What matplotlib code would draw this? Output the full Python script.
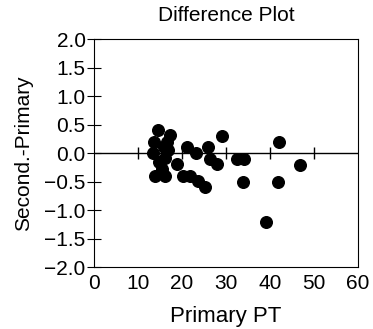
import matplotlib
matplotlib.use("Agg")
import matplotlib.pyplot as plt

plt.rcParams['font.family'] = ['Liberation Sans', 'DejaVu Sans']

# primary PT vs (secondary - primary)
primary = [14.6, 17.3, 13.6, 13.5, 16.9, 21.1, 23.2, 25.8, 29.1, 26.4, 28.0,
           32.4, 34.1, 33.8, 18.9, 13.9, 16.1, 20.3, 21.8, 23.7, 25.2, 15.4,
           16.1, 16.7, 42.0, 46.8, 41.7, 39.1, 14.8, 15.8]
diff = [0.40, 0.32, 0.20, 0.00, 0.05, 0.11, 0.00, 0.11, 0.30, -0.11, -0.19,
        -0.11, -0.11, -0.50, -0.19, -0.40, -0.40, -0.40, -0.40, -0.49, -0.60, -0.27,
        -0.09, 0.20, 0.20, -0.20, -0.50, -1.20, -0.15, 0.10]
zero_ticks = [10, 20, 30, 40, 50]
xticks = [0, 10, 20, 30, 40, 50, 60]
yticks = [-2.0, -1.5, -1.0, -0.5, 0.0, 0.5, 1.0, 1.5, 2.0]

fig = plt.figure(figsize=(3.73, 3.29), dpi=100)
ax = fig.add_axes([0.252, 0.188, 0.708, 0.693])

ax.axhline(0, color='black', lw=1)
ax.plot(zero_ticks, [0] * len(zero_ticks), '|', color='black', ms=8, mew=1)
ax.scatter(primary, diff, s=70, color='black', zorder=3, clip_on=False)

ax.set_xlim(0, 60)
ax.set_ylim(-2.0, 2.0)
ax.set_xticks(xticks)
ax.set_yticks(yticks)
ax.set_yticklabels(['\u22122.0', '\u22121.5', '\u22121.0', '\u22120.5', '0.0', '0.5', '1.0', '1.5', '2.0'])
ax.tick_params(axis='x', length=0, labelsize=15, pad=5)
ax.tick_params(axis='y', direction='inout', length=10, labelsize=15, pad=1)

ax.set_title('Difference Plot', fontsize=15, pad=13)
ax.set_xlabel('Primary PT', fontsize=16, labelpad=9)
ax.set_ylabel('Second.-Primary', fontsize=15, labelpad=8)

fig.savefig('out.png', dpi=100)
